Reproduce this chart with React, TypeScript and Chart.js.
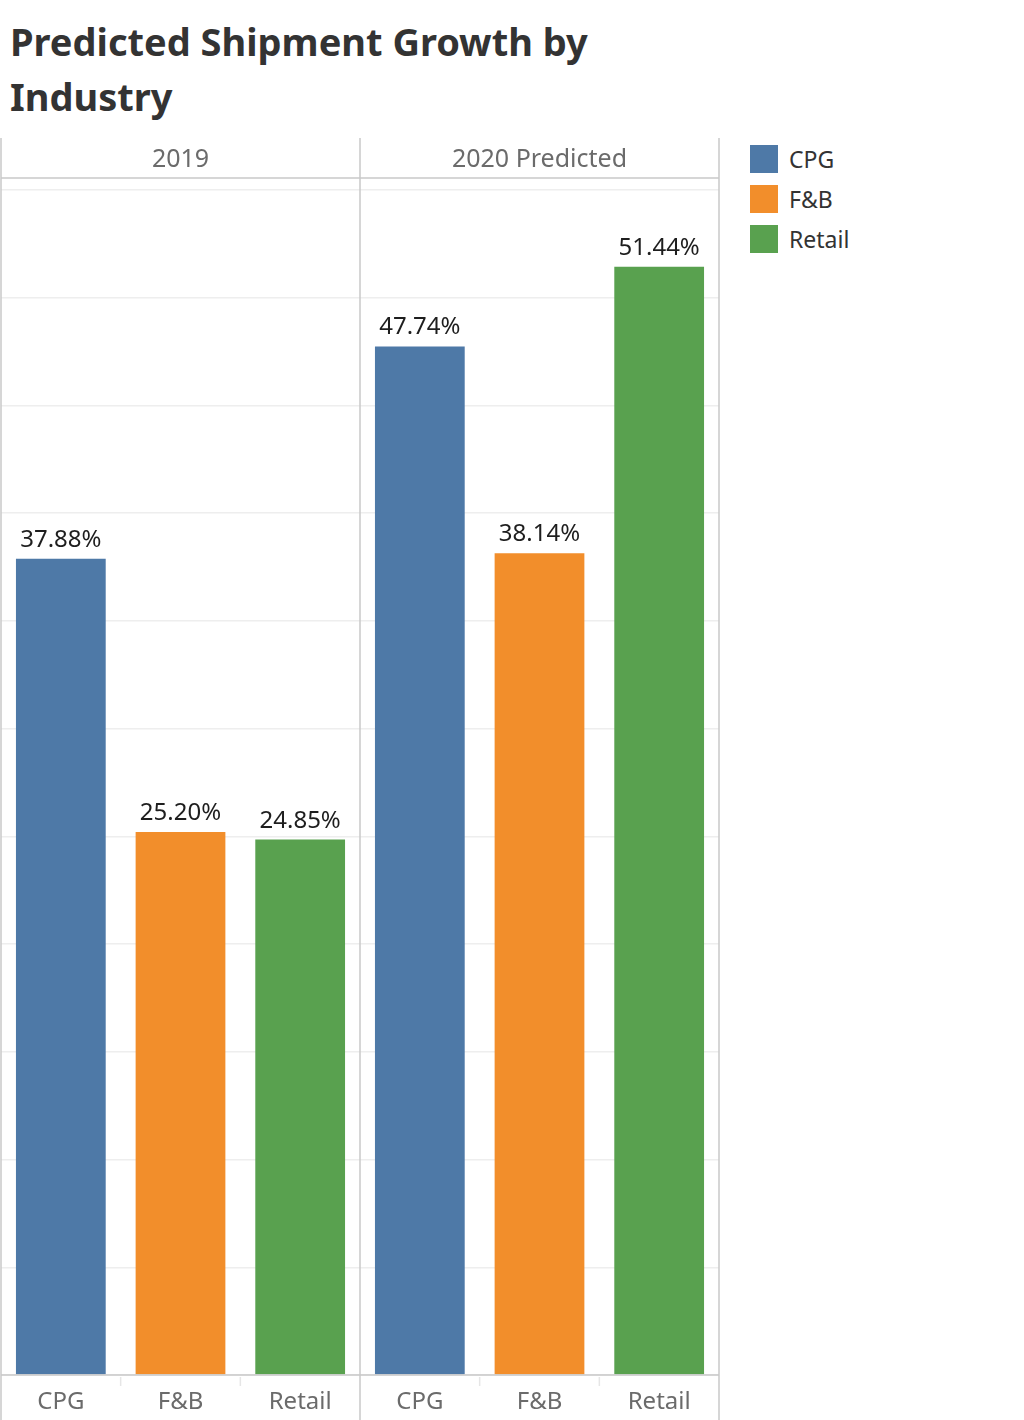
import { useEffect, useRef } from "react"
import { Chart, registerables } from "chart.js"

Chart.register(...registerables)

// Datos
const panels = ["2019", "2020 Predicted"]
const industries = ["CPG", "F&B", "Retail"]
const cpgValues = [37.88, 47.74]
const fnbValues = [25.2, 38.14]
const retailValues = [24.85, 51.44]
const colors = ["#4e79a7", "#f28e2b", "#59a14f"]
const yMax = 55
const yStep = 5

const FONT = "'Noto Sans', sans-serif"

const facetPlugin = {
  id: "facets",
  afterDraw(chart: Chart) {
    const { ctx, chartArea, scales } = chart
    const x = scales.x
    const h = chart.height
    const left = chartArea.left
    const right = chartArea.right
    const bottom = chartArea.bottom
    ctx.save()

    // bordes de los paneles
    ctx.strokeStyle = "#c8c8c8"
    ctx.lineWidth = 1.5
    const edges = [left, (left + right) / 2, right]
    edges.forEach((ex) => {
      ctx.beginPath()
      ctx.moveTo(ex, 0)
      ctx.lineTo(ex, h)
      ctx.stroke()
    })
    ctx.beginPath()
    ctx.moveTo(left, 40)
    ctx.lineTo(right, 40)
    ctx.stroke()
    ctx.beginPath()
    ctx.moveTo(left, bottom)
    ctx.lineTo(right, bottom)
    ctx.stroke()

    // cabeceras
    ctx.fillStyle = "#6b6b6b"
    ctx.font = `25px ${FONT}`
    ctx.textAlign = "center"
    ctx.textBaseline = "middle"
    panels.forEach((p, i) => {
      ctx.fillText(p, x.getPixelForValue(i), 22)
    })

    // etiquetas inferiores y valores
    const sep: number[] = []
    chart.data.datasets.forEach((ds, di) => {
      const meta = chart.getDatasetMeta(di)
      meta.data.forEach((bar: any, i) => {
        ctx.fillStyle = "#6b6b6b"
        ctx.font = `24px ${FONT}`
        ctx.textBaseline = "middle"
        ctx.fillText(industries[di], bar.x, bottom + 27)
        ctx.fillStyle = "#1e1e1e"
        ctx.font = `24px ${FONT}`
        ctx.textBaseline = "alphabetic"
        const v = ds.data[i] as number
        ctx.fillText(v.toFixed(2) + "%", bar.x, bar.y - 12)
        if (di > 0) sep.push(bar.x - (bar.width / 0.75) / 2)
      })
    })
    ctx.strokeStyle = "#e6e6e6"
    ctx.lineWidth = 1.5
    sep.forEach((sx) => {
      ctx.beginPath()
      ctx.moveTo(sx, bottom + 2)
      ctx.lineTo(sx, bottom + 11)
      ctx.stroke()
    })
    ctx.restore()
  },
}

function ShipmentChart() {
  const chartRef = useRef<HTMLCanvasElement>(null)
  const chartInstance = useRef<Chart | null>(null)

  useEffect(() => {
    if (!chartRef.current) return
    if (chartInstance.current) chartInstance.current.destroy()
    const ctx = chartRef.current.getContext("2d")
    if (!ctx) return

    const series = [cpgValues, fnbValues, retailValues]
    chartInstance.current = new Chart(ctx, {
      type: "bar",
      data: {
        labels: panels,
        datasets: industries.map((name, i) => ({
          label: name,
          data: series[i],
          backgroundColor: colors[i],
          categoryPercentage: 1,
          barPercentage: 0.75,
        })),
      },
      options: {
        responsive: false,
        maintainAspectRatio: false,
        animation: false,
        layout: { padding: { top: 52, bottom: 45, left: 1, right: 1 } },
        plugins: {
          legend: { display: false },
          tooltip: { enabled: false },
        },
        scales: {
          x: { display: false },
          y: {
            min: 0,
            max: yMax,
            ticks: { display: false, stepSize: yStep },
            grid: { color: "#eeeeee", drawTicks: false, lineWidth: 1.5 },
            border: { display: false },
          },
        },
      },
      plugins: [facetPlugin],
    })

    return () => {
      if (chartInstance.current) {
        chartInstance.current.destroy()
        chartInstance.current = null
      }
    }
  }, [])

  return <canvas ref={chartRef} width={720} height={1282} />
}

export default function App() {
  return (
    <div
      style={{
        position: "absolute",
        left: 0,
        top: 0,
        width: 1024,
        height: 1420,
        background: "#fff",
        fontFamily: FONT,
      }}
    >
      <div
        style={{
          position: "absolute",
          left: 10,
          top: 14,
          width: 640,
          fontSize: 38,
          fontWeight: 700,
          lineHeight: "55px",
          color: "#333333",
        }}
      >
        Predicted Shipment Growth by Industry
      </div>
      <div style={{ position: "absolute", left: 0, top: 138, width: 720, height: 1282 }}>
        <ShipmentChart />
      </div>
      <div style={{ position: "absolute", left: 750, top: 145 }}>
        {industries.map((name, i) => (
          <div key={name} style={{ display: "flex", alignItems: "center", height: 40, marginTop: i === 0 ? -6 : 0 }}>
            <div style={{ width: 28, height: 28, background: colors[i] }} />
            <span style={{ marginLeft: 11, fontSize: 23, color: "#333" }}>{name}</span>
          </div>
        ))}
      </div>
    </div>
  )
}
